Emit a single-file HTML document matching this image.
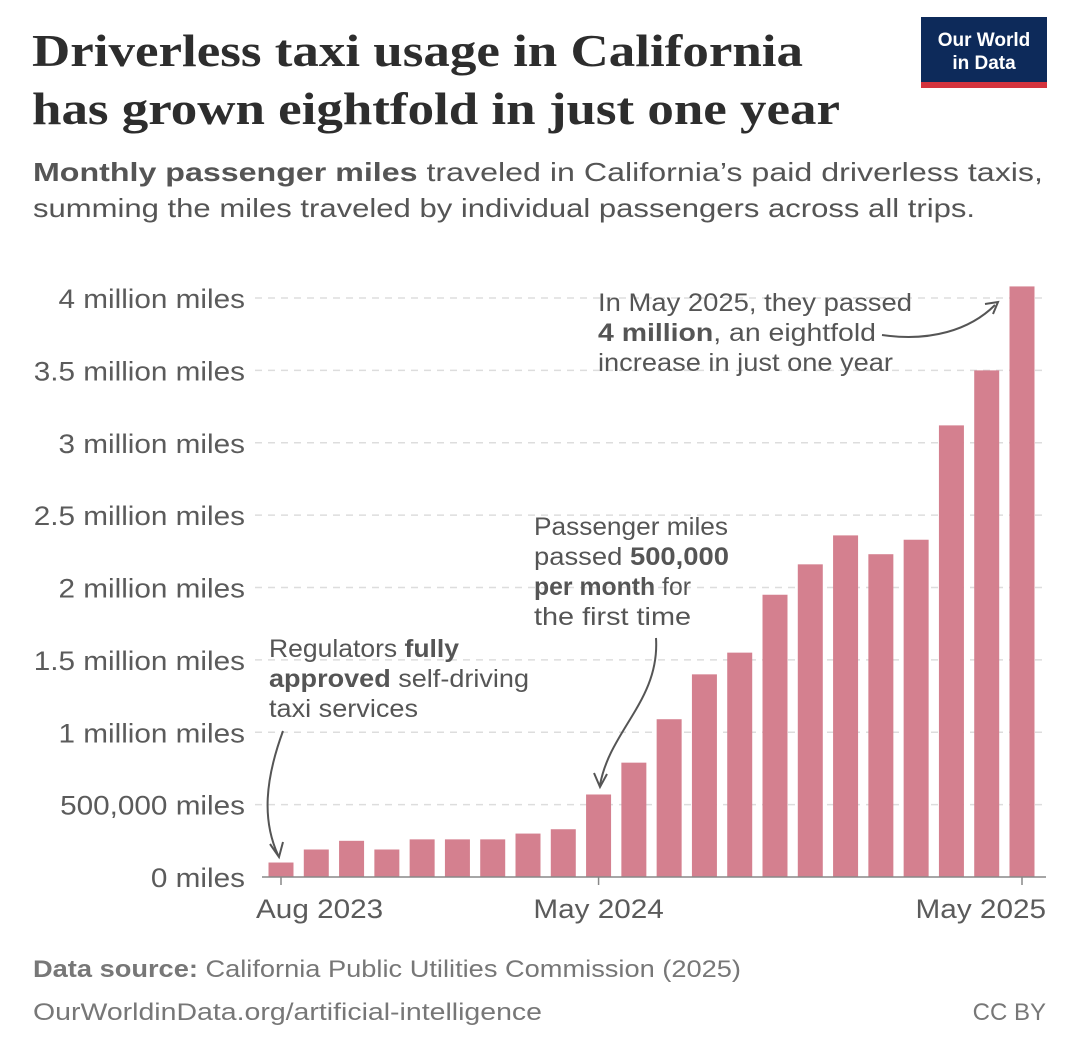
<!DOCTYPE html>
<html><head><meta charset="utf-8"><style>
body{margin:0;background:#fff;width:1080px;height:1053px;overflow:hidden;font-family:"Liberation Sans",sans-serif}
</style></head><body>
<svg width="1080" height="1053" style="position:absolute;left:0;top:0">
<text x="32" y="66" font-family="Liberation Serif" font-size="46" font-weight="bold" fill="#2d2d2d" textLength="771" lengthAdjust="spacingAndGlyphs">Driverless taxi usage in California</text>
<text x="32" y="124" font-family="Liberation Serif" font-size="46" font-weight="bold" fill="#2d2d2d" textLength="808" lengthAdjust="spacingAndGlyphs">has grown eightfold in just one year</text>
<text x="33" y="181" font-size="26" fill="#555" textLength="1010" lengthAdjust="spacingAndGlyphs"><tspan font-weight="bold">Monthly passenger miles</tspan> traveled in California’s paid driverless taxis,</text>
<text x="33" y="217" font-size="26" fill="#555" textLength="942" lengthAdjust="spacingAndGlyphs">summing the miles traveled by individual passengers across all trips.</text>
<g>
<rect x="921" y="17" width="126" height="65" fill="#0d2a5a"/>
<rect x="921" y="82" width="126" height="6" fill="#d4333d"/>
<text x="984" y="46" text-anchor="middle" font-size="19" font-weight="bold" fill="#fff">Our World</text>
<text x="984" y="69" text-anchor="middle" font-size="19" font-weight="bold" fill="#fff">in Data</text>
</g>
<g id="grid"></g><g id="bars"></g><g id="axis"></g>
<g font-size="25" fill="#555">
<text x="598" y="311" textLength="314" lengthAdjust="spacingAndGlyphs">In May 2025, they passed</text>
<text x="598" y="341" textLength="278" lengthAdjust="spacingAndGlyphs"><tspan font-weight="bold">4 million</tspan>, an eightfold</text>
<text x="598" y="371" textLength="295" lengthAdjust="spacingAndGlyphs">increase in just one year</text>
<path d="M882,335 C930,342 970,330 995,305" fill="none" stroke="#555" stroke-width="2"/>
<path d="M985,304 L998,302 L993,314" fill="none" stroke="#555" stroke-width="2"/>
</g>
<g font-size="25" fill="#555">
<text x="534" y="535" textLength="194" lengthAdjust="spacingAndGlyphs">Passenger miles</text>
<text x="534" y="565" textLength="195" lengthAdjust="spacingAndGlyphs">passed <tspan font-weight="bold">500,000</tspan></text>
<text x="534" y="595" textLength="157" lengthAdjust="spacingAndGlyphs"><tspan font-weight="bold">per month</tspan> for</text>
<text x="534" y="625" textLength="157" lengthAdjust="spacingAndGlyphs">the first time</text>
<path d="M656,638 C660,700 610,730 600,785" fill="none" stroke="#555" stroke-width="2"/>
<path d="M594,773 L600,787 L607,774" fill="none" stroke="#555" stroke-width="2"/>
</g>
<g font-size="25" fill="#555">
<text x="269" y="657" textLength="190" lengthAdjust="spacingAndGlyphs">Regulators <tspan font-weight="bold">fully</tspan></text>
<text x="269" y="687" textLength="260" lengthAdjust="spacingAndGlyphs"><tspan font-weight="bold">approved</tspan> self-driving</text>
<text x="269" y="717" textLength="149" lengthAdjust="spacingAndGlyphs">taxi services</text>
<path d="M283,731 C265,780 262,820 278,855" fill="none" stroke="#555" stroke-width="2"/>
<path d="M270,844 L279,857 L283,842" fill="none" stroke="#555" stroke-width="2"/>
</g>
<text x="33" y="977" font-size="24" fill="#777" textLength="708" lengthAdjust="spacingAndGlyphs"><tspan font-weight="bold">Data source:</tspan> California Public Utilities Commission (2025)</text>
<text x="33" y="1020" font-size="24" fill="#777" textLength="509" lengthAdjust="spacingAndGlyphs">OurWorldinData.org/artificial-intelligence</text>
<text x="1046" y="1020" text-anchor="end" font-size="24" fill="#777">CC BY</text>
</svg>
<script>
const months=["Aug 2023","Sep 2023","Oct 2023","Nov 2023","Dec 2023","Jan 2024","Feb 2024","Mar 2024","Apr 2024","May 2024","Jun 2024","Jul 2024","Aug 2024","Sep 2024","Oct 2024","Nov 2024","Dec 2024","Jan 2025","Feb 2025","Mar 2025","Apr 2025","May 2025"];
const miles=[0.10,0.19,0.25,0.19,0.26,0.26,0.26,0.30,0.33,0.57,0.79,1.09,1.40,1.55,1.95,2.16,2.36,2.23,2.33,3.12,3.50,4.08];
const yTicks=[0,0.5,1,1.5,2,2.5,3,3.5,4];
const yTickLabels=["0 miles","500,000 miles","1 million miles","1.5 million miles","2 million miles","2.5 million miles","3 million miles","3.5 million miles","4 million miles"];
const xTickLabels=["Aug 2023","May 2024","May 2025"];
const NS="http://www.w3.org/2000/svg";
const y=v=>877-v*144.75;
const x=i=>281+i*(1022-281)/21;
function mk(t,a,p){const e=document.createElementNS(NS,t);for(const k in a)e.setAttribute(k,a[k]);p.appendChild(e);return e;}
function widen(t,f){const w=t.getComputedTextLength();t.setAttribute('textLength',w*f);t.setAttribute('lengthAdjust','spacingAndGlyphs');}
const grid=document.getElementById('grid'),bars=document.getElementById('bars'),axis=document.getElementById('axis');
yTicks.forEach((v,i)=>{
 if(v>0){const l=mk('line',{x1:255,x2:1046,y1:y(v),y2:y(v),stroke:'#ddd','stroke-width':1.5,'stroke-dasharray':'7,6'},grid);
 
 }
 const t=mk('text',{x:245,y:y(v)+10,'text-anchor':'end','font-size':27,fill:'#5b5b5b'},axis);t.textContent=yTickLabels[i];
 
 
 widen(t,1.1);
});
miles.forEach((v,i)=>{
 const r=mk('rect',{x:x(i)-12.5,y:y(v),width:25,height:877-y(v),fill:'#d4808f'},bars);
 
 
});
const al=mk('line',{x1:262,x2:1046,y1:877,y2:877,stroke:'#888','stroke-width':1.5},axis);


xTickLabels.forEach((lbl,k)=>{
 const i=months.indexOf(lbl);
 mk('line',{x1:x(i),x2:x(i),y1:877,y2:885,stroke:'#888','stroke-width':1.5},axis);
 const anchor=k===0?'start':(k===xTickLabels.length-1?'end':'middle');
 const tx=k===0?256:(k===xTickLabels.length-1?1046:x(i));
 const t=mk('text',{x:tx,y:918,'text-anchor':anchor,'font-size':27,fill:'#5b5b5b'},axis);t.textContent=lbl;
 
 
 widen(t,1.1);
});
</script>
</body></html>
